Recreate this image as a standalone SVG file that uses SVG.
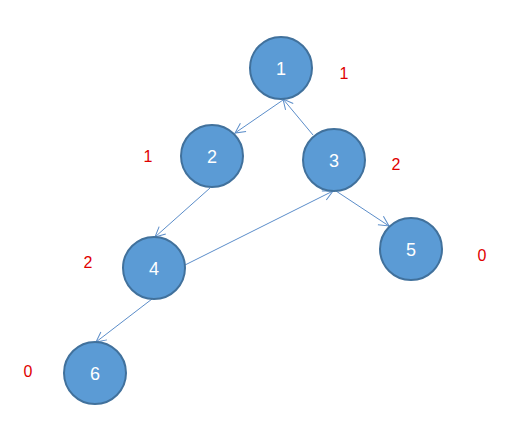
<svg xmlns="http://www.w3.org/2000/svg" width="521" height="442" viewBox="0 0 521 442">
<defs>
<marker id="arr" viewBox="0 0 12 12" refX="11" refY="6" markerWidth="12" markerHeight="12" markerUnits="userSpaceOnUse" orient="auto">
<path d="M1,1 L11,6 L1,11" fill="none" stroke="#5B8DC9" stroke-width="1"/>
</marker>
<style>
.n{fill:#5B9BD5;stroke:#41719C;stroke-width:2}
.t{fill:#fff;font-family:"Liberation Sans","Open Sans",sans-serif;font-size:18px;text-anchor:middle}
.r{fill:#E00000;font-family:"Liberation Sans","Open Sans",sans-serif;font-size:16px;text-anchor:middle}
.e{stroke:#5B8DC9;stroke-width:1;fill:none;marker-end:url(#arr)}
</style>
</defs>
<rect width="521" height="442" fill="#fff"/>
<g id="connectors">
<line class="e" x1="283" y1="100" x2="235" y2="133"/>
<line class="e" x1="313" y1="135" x2="283" y2="99"/>
<line class="e" x1="210" y1="188" x2="155" y2="237"/>
<line class="e" x1="185" y1="265" x2="333" y2="191"/>
<line class="e" x1="336" y1="191" x2="389" y2="226"/>
<line class="e" x1="152" y1="299" x2="96" y2="342"/>
</g>
<g id="node1"><circle class="n" cx="281" cy="68" r="31"/><text class="t" x="281" y="75">1</text></g>
<g id="node2"><circle class="n" cx="212" cy="156" r="31"/><text class="t" x="212" y="163">2</text></g>
<g id="node3"><circle class="n" cx="334" cy="160" r="31"/><text class="t" x="334" y="167">3</text></g>
<g id="node4"><circle class="n" cx="154" cy="268" r="31"/><text class="t" x="154" y="275">4</text></g>
<g id="node5"><circle class="n" cx="411" cy="249" r="31"/><text class="t" x="411" y="256">5</text></g>
<g id="node6"><circle class="n" cx="95" cy="373" r="31"/><text class="t" x="95" y="380">6</text></g>
<g id="labels">
<text class="r" x="344" y="79">1</text>
<text class="r" x="148" y="162">1</text>
<text class="r" x="396" y="170">2</text>
<text class="r" x="88" y="268">2</text>
<text class="r" x="482" y="261">0</text>
<text class="r" x="28" y="377">0</text>
</g>
</svg>
